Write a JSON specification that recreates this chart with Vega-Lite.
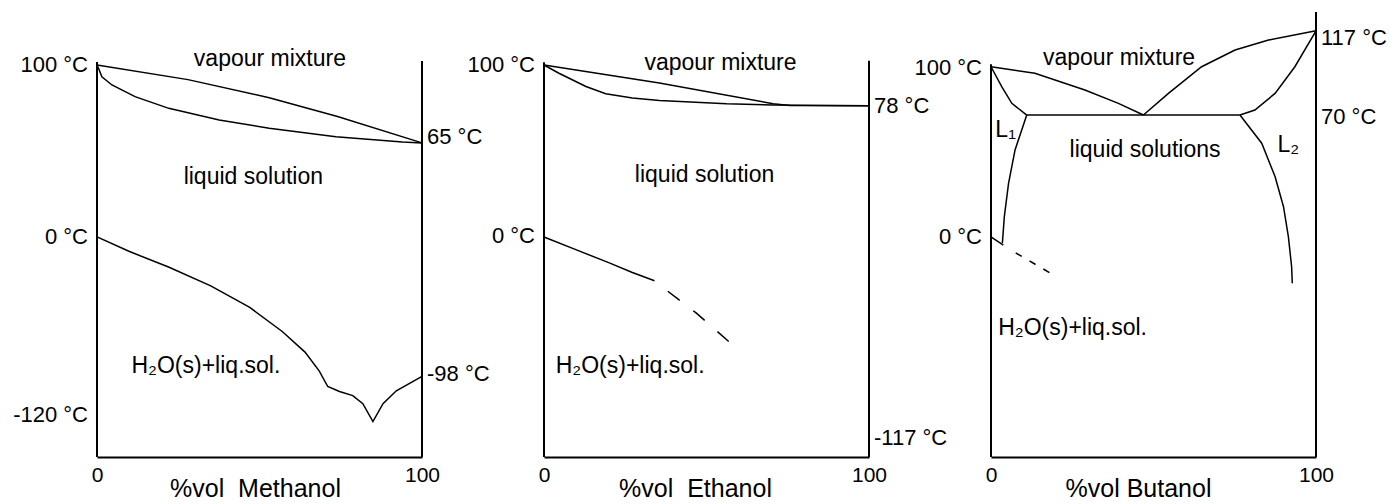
{
  "$schema": "https://vega.github.io/schema/vega-lite/v6.json",
  "padding": {"left": 13, "top": 10, "right": 0, "bottom": 0},
  "spacing": 122,
  "bounds": "flush",
  "config": {"view": {"stroke": null}, "font": "Liberation Sans"},
  "datasets": {
    "frame": [
      {"p": "M", "x": 0, "y": -128, "y2": 101.7}, {"p": "M", "x": 100, "y": -128, "y2": 102.3},
      {"p": "E", "x": 0, "y": -128, "y2": 101.6}, {"p": "E", "x": 100, "y": -128, "y2": 102.5},
      {"p": "B", "x": 0, "y": -128, "y2": 100.4}, {"p": "B", "x": 100, "y": -128, "y2": 130.8}
    ],
    "lines": [
      {"p": "M", "c": "v", "s": "solid", "o": 1, "x": 0, "y": 100},
      {"p": "M", "c": "v", "s": "solid", "o": 2, "x": 28, "y": 91.5},
      {"p": "M", "c": "v", "s": "solid", "o": 3, "x": 53, "y": 81},
      {"p": "M", "c": "v", "s": "solid", "o": 4, "x": 74, "y": 70},
      {"p": "M", "c": "v", "s": "solid", "o": 5, "x": 100, "y": 54.7},
      {"p": "M", "c": "l", "s": "solid", "o": 1, "x": 0, "y": 100},
      {"p": "M", "c": "l", "s": "solid", "o": 2, "x": 0.5, "y": 98},
      {"p": "M", "c": "l", "s": "solid", "o": 3, "x": 1.5, "y": 93.2},
      {"p": "M", "c": "l", "s": "solid", "o": 4, "x": 4.6, "y": 88.4},
      {"p": "M", "c": "l", "s": "solid", "o": 5, "x": 11.7, "y": 81.6},
      {"p": "M", "c": "l", "s": "solid", "o": 6, "x": 22.1, "y": 74.8},
      {"p": "M", "c": "l", "s": "solid", "o": 7, "x": 37.6, "y": 68},
      {"p": "M", "c": "l", "s": "solid", "o": 8, "x": 53, "y": 63.2},
      {"p": "M", "c": "l", "s": "solid", "o": 9, "x": 73.5, "y": 58.3},
      {"p": "M", "c": "l", "s": "solid", "o": 10, "x": 94, "y": 55.2},
      {"p": "M", "c": "l", "s": "solid", "o": 11, "x": 100, "y": 54.7},
      {"p": "M", "c": "f", "s": "solid", "o": 1, "x": 0, "y": 0},
      {"p": "M", "c": "f", "s": "solid", "o": 2, "x": 10, "y": -8.5},
      {"p": "M", "c": "f", "s": "solid", "o": 3, "x": 22, "y": -17.5},
      {"p": "M", "c": "f", "s": "solid", "o": 4, "x": 35, "y": -28.5},
      {"p": "M", "c": "f", "s": "solid", "o": 5, "x": 47, "y": -41},
      {"p": "M", "c": "f", "s": "solid", "o": 6, "x": 57, "y": -55},
      {"p": "M", "c": "f", "s": "solid", "o": 7, "x": 64, "y": -67},
      {"p": "M", "c": "f", "s": "solid", "o": 8, "x": 68.4, "y": -78},
      {"p": "M", "c": "f", "s": "solid", "o": 9, "x": 71, "y": -87},
      {"p": "M", "c": "f", "s": "solid", "o": 10, "x": 74.6, "y": -89.9},
      {"p": "M", "c": "f", "s": "solid", "o": 11, "x": 78.7, "y": -92.3},
      {"p": "M", "c": "f", "s": "solid", "o": 12, "x": 81.8, "y": -97},
      {"p": "M", "c": "f", "s": "solid", "o": 13, "x": 84.9, "y": -107.4},
      {"p": "M", "c": "f", "s": "solid", "o": 14, "x": 88, "y": -97},
      {"p": "M", "c": "f", "s": "solid", "o": 15, "x": 92.1, "y": -89.5},
      {"p": "M", "c": "f", "s": "solid", "o": 16, "x": 100, "y": -81.1},

      {"p": "E", "c": "v", "s": "solid", "o": 1, "x": 0, "y": 100},
      {"p": "E", "c": "v", "s": "solid", "o": 2, "x": 35.5, "y": 89.5},
      {"p": "E", "c": "v", "s": "solid", "o": 3, "x": 70.5, "y": 77.5},
      {"p": "E", "c": "v", "s": "solid", "o": 4, "x": 75.6, "y": 76.5},
      {"p": "E", "c": "v", "s": "solid", "o": 5, "x": 100, "y": 76.3},
      {"p": "E", "c": "l", "s": "solid", "o": 1, "x": 0, "y": 100},
      {"p": "E", "c": "l", "s": "solid", "o": 2, "x": 4.6, "y": 95.2},
      {"p": "E", "c": "l", "s": "solid", "o": 3, "x": 12.9, "y": 87.5},
      {"p": "E", "c": "l", "s": "solid", "o": 4, "x": 19, "y": 83.3},
      {"p": "E", "c": "l", "s": "solid", "o": 5, "x": 27.2, "y": 80.8},
      {"p": "E", "c": "l", "s": "solid", "o": 6, "x": 35.5, "y": 79.4},
      {"p": "E", "c": "l", "s": "solid", "o": 7, "x": 56.2, "y": 77.4},
      {"p": "E", "c": "l", "s": "solid", "o": 8, "x": 70.5, "y": 76.7},
      {"p": "E", "c": "l", "s": "solid", "o": 9, "x": 100, "y": 76.3},
      {"p": "E", "c": "f", "s": "solid", "o": 1, "x": 0, "y": 0},
      {"p": "E", "c": "f", "s": "solid", "o": 2, "x": 9.8, "y": -7.4},
      {"p": "E", "c": "f", "s": "solid", "o": 3, "x": 20.1, "y": -15.1},
      {"p": "E", "c": "f", "s": "solid", "o": 4, "x": 27, "y": -20.5},
      {"p": "E", "c": "f", "s": "solid", "o": 5, "x": 34, "y": -25.5},
      {"p": "E", "c": "fd", "s": "dash", "o": 1, "x": 38.1, "y": -31.6},
      {"p": "E", "c": "fd", "s": "dash", "o": 2, "x": 46.8, "y": -44.2},
      {"p": "E", "c": "fd", "s": "dash", "o": 3, "x": 57.3, "y": -61.6},

      {"p": "B", "c": "vL", "s": "solid", "o": 1, "x": 0, "y": 99},
      {"p": "B", "c": "vL", "s": "solid", "o": 2, "x": 13.5, "y": 95.2},
      {"p": "B", "c": "vL", "s": "solid", "o": 3, "x": 28.9, "y": 85.5},
      {"p": "B", "c": "vL", "s": "solid", "o": 4, "x": 39.2, "y": 77.7},
      {"p": "B", "c": "vL", "s": "solid", "o": 5, "x": 46.9, "y": 70.9},
      {"p": "B", "c": "vR", "s": "solid", "o": 1, "x": 46.9, "y": 70.9},
      {"p": "B", "c": "vR", "s": "solid", "o": 2, "x": 54.6, "y": 83.5},
      {"p": "B", "c": "vR", "s": "solid", "o": 3, "x": 64.8, "y": 99},
      {"p": "B", "c": "vR", "s": "solid", "o": 4, "x": 75.1, "y": 108.7},
      {"p": "B", "c": "vR", "s": "solid", "o": 5, "x": 85.4, "y": 114.5},
      {"p": "B", "c": "vR", "s": "solid", "o": 6, "x": 100, "y": 119.9},
      {"p": "B", "c": "iR", "s": "solid", "o": 1, "x": 100, "y": 119.9},
      {"p": "B", "c": "iR", "s": "solid", "o": 2, "x": 93.5, "y": 99},
      {"p": "B", "c": "iR", "s": "solid", "o": 3, "x": 87.4, "y": 83.5},
      {"p": "B", "c": "iR", "s": "solid", "o": 4, "x": 81.2, "y": 73.8},
      {"p": "B", "c": "iR", "s": "solid", "o": 5, "x": 76.6, "y": 70.9},
      {"p": "B", "c": "iL", "s": "solid", "o": 1, "x": 0, "y": 99},
      {"p": "B", "c": "iL", "s": "solid", "o": 2, "x": 3.3, "y": 87.4},
      {"p": "B", "c": "iL", "s": "solid", "o": 3, "x": 6.4, "y": 77.7},
      {"p": "B", "c": "iL", "s": "solid", "o": 4, "x": 11, "y": 70.9},
      {"p": "B", "c": "h", "s": "solid", "o": 1, "x": 11, "y": 70.9},
      {"p": "B", "c": "h", "s": "solid", "o": 2, "x": 76.6, "y": 70.9},
      {"p": "B", "c": "L1", "s": "solid", "o": 1, "x": 11, "y": 70.9},
      {"p": "B", "c": "L1", "s": "solid", "o": 2, "x": 7.4, "y": 50.6},
      {"p": "B", "c": "L1", "s": "solid", "o": 3, "x": 5.4, "y": 31.2},
      {"p": "B", "c": "L1", "s": "solid", "o": 4, "x": 4.1, "y": 11.8},
      {"p": "B", "c": "L1", "s": "solid", "o": 5, "x": 3.5, "y": -3.7},
      {"p": "B", "c": "L2", "s": "solid", "o": 1, "x": 76.6, "y": 70.9},
      {"p": "B", "c": "L2", "s": "solid", "o": 2, "x": 83.3, "y": 54.5},
      {"p": "B", "c": "L2", "s": "solid", "o": 3, "x": 87.4, "y": 35.1},
      {"p": "B", "c": "L2", "s": "solid", "o": 4, "x": 90, "y": 17.6},
      {"p": "B", "c": "L2", "s": "solid", "o": 5, "x": 91.5, "y": 0.2},
      {"p": "B", "c": "L2", "s": "solid", "o": 6, "x": 92.5, "y": -17.3},
      {"p": "B", "c": "L2", "s": "solid", "o": 7, "x": 92.7, "y": -26.9},
      {"p": "B", "c": "f", "s": "solid", "o": 1, "x": 0, "y": 0},
      {"p": "B", "c": "f", "s": "solid", "o": 2, "x": 3.8, "y": -4.7},
      {"p": "B", "c": "fd", "s": "dash", "o": 1, "x": 7.6, "y": -9.3},
      {"p": "B", "c": "fd", "s": "dash", "o": 2, "x": 18.7, "y": -21.5}
    ],
    "labels": [
      {"p": "M", "k": "L", "t": "100 °C", "x": 0, "y": 100},
      {"p": "M", "k": "L", "t": "0 °C", "x": 0, "y": 0},
      {"p": "M", "k": "L", "t": "-120 °C", "x": 0, "y": -103.5},
      {"p": "M", "k": "R", "t": "65 °C", "x": 100, "y": 58.3},
      {"p": "M", "k": "R", "t": "-98 °C", "x": 100, "y": -79.7},
      {"p": "M", "k": "C", "t": "vapour mixture", "x": 53.2, "y": 103.5},
      {"p": "M", "k": "C", "t": "liquid solution", "x": 48.1, "y": 34.6},
      {"p": "M", "k": "C", "t": "H₂O(s)+liq.sol.", "x": 33.5, "y": -75},
      {"p": "E", "k": "L", "t": "100 °C", "x": 0, "y": 100},
      {"p": "E", "k": "L", "t": "0 °C", "x": 0, "y": 0.5},
      {"p": "E", "k": "R", "t": "78 °C", "x": 100, "y": 76.3},
      {"p": "E", "k": "R", "t": "-117 °C", "x": 100, "y": -116.7},
      {"p": "E", "k": "C", "t": "vapour mixture", "x": 54.3, "y": 101},
      {"p": "E", "k": "C", "t": "liquid solution", "x": 49.4, "y": 36},
      {"p": "E", "k": "C", "t": "H₂O(s)+liq.sol.", "x": 26.5, "y": -74.8},
      {"p": "B", "k": "L", "t": "100 °C", "x": 0, "y": 98},
      {"p": "B", "k": "L", "t": "0 °C", "x": 0, "y": 0},
      {"p": "B", "k": "R", "t": "117 °C", "x": 100, "y": 115.5},
      {"p": "B", "k": "R", "t": "70 °C", "x": 100, "y": 70},
      {"p": "B", "k": "C", "t": "vapour mixture", "x": 39.4, "y": 103.9},
      {"p": "B", "k": "C", "t": "liquid solutions", "x": 47.4, "y": 50.6},
      {"p": "B", "k": "C", "t": "L₁", "x": 4.5, "y": 62.2},
      {"p": "B", "k": "C", "t": "L₂", "x": 91.5, "y": 53.5},
      {"p": "B", "k": "C", "t": "H₂O(s)+liq.sol.", "x": 25.1, "y": -53.1}
    ]
  },
  "hconcat": [
    {
      "width": 325, "height": 447,
      "encoding": {
        "x": {"field": "x", "type": "quantitative", "scale": {"domain": [0, 100], "nice": false},
          "axis": {"values": [0, 100], "title": "%vol\u00a0 Methanol", "grid": false, "ticks": false, "tickSize": 0,
            "labelFontSize": 21, "labelColor": "black", "labelFlush": false, "labelPadding": 24, "labelBaseline": "alphabetic",
            "domainColor": "black", "domainWidth": 2,
            "titleFontSize": 25, "titleFontWeight": "normal", "titleColor": "black", "titleX": 158, "titleY": 39.5, "titleBaseline": "alphabetic"}},
        "y": {"field": "y", "type": "quantitative", "scale": {"domain": [-128, 132], "nice": false}, "axis": null}
      },
      "layer": [
        {"data": {"name": "frame"}, "transform": [{"filter": "datum.p === 'M'"}],
          "mark": {"type": "rule", "color": "black", "strokeWidth": 2}, "encoding": {"y2": {"field": "y2"}}},
        {"data": {"name": "lines"}, "transform": [{"filter": "datum.p === 'M' && datum.s === 'solid'"}],
          "mark": {"type": "line", "color": "black", "strokeWidth": 1.5},
          "encoding": {"detail": {"field": "c"}, "order": {"field": "o", "type": "quantitative"}}},
        {"data": {"name": "labels"}, "transform": [{"filter": "datum.p === 'M' && datum.k === 'L'"}],
          "mark": {"type": "text", "color": "black", "fontSize": 22, "align": "right", "baseline": "middle", "dx": -9},
          "encoding": {"text": {"field": "t"}}},
        {"data": {"name": "labels"}, "transform": [{"filter": "datum.p === 'M' && datum.k === 'R'"}],
          "mark": {"type": "text", "color": "black", "fontSize": 22, "align": "left", "baseline": "middle", "dx": 5},
          "encoding": {"text": {"field": "t"}}},
        {"data": {"name": "labels"}, "transform": [{"filter": "datum.p === 'M' && datum.k === 'C'"}],
          "mark": {"type": "text", "color": "black", "fontSize": 23, "align": "center", "baseline": "middle"},
          "encoding": {"text": {"field": "t"}}}
      ]
    },
    {
      "width": 325, "height": 447,
      "encoding": {
        "x": {"field": "x", "type": "quantitative", "scale": {"domain": [0, 100], "nice": false},
          "axis": {"values": [0, 100], "title": "%vol\u00a0 Ethanol", "grid": false, "ticks": false, "tickSize": 0,
            "labelFontSize": 21, "labelColor": "black", "labelFlush": false, "labelPadding": 24, "labelBaseline": "alphabetic",
            "domainColor": "black", "domainWidth": 2,
            "titleFontSize": 25, "titleFontWeight": "normal", "titleColor": "black", "titleX": 151, "titleY": 39.5, "titleBaseline": "alphabetic"}},
        "y": {"field": "y", "type": "quantitative", "scale": {"domain": [-128, 132], "nice": false}, "axis": null}
      },
      "layer": [
        {"data": {"name": "frame"}, "transform": [{"filter": "datum.p === 'E'"}],
          "mark": {"type": "rule", "color": "black", "strokeWidth": 2}, "encoding": {"y2": {"field": "y2"}}},
        {"data": {"name": "lines"}, "transform": [{"filter": "datum.p === 'E' && datum.s === 'solid'"}],
          "mark": {"type": "line", "color": "black", "strokeWidth": 1.5},
          "encoding": {"detail": {"field": "c"}, "order": {"field": "o", "type": "quantitative"}}},
        {"data": {"name": "lines"}, "transform": [{"filter": "datum.p === 'E' && datum.s === 'dash'"}],
          "mark": {"type": "line", "color": "black", "strokeWidth": 1.5, "strokeDash": [15, 17]},
          "encoding": {"detail": {"field": "c"}, "order": {"field": "o", "type": "quantitative"}}},
        {"data": {"name": "labels"}, "transform": [{"filter": "datum.p === 'E' && datum.k === 'L'"}],
          "mark": {"type": "text", "color": "black", "fontSize": 22, "align": "right", "baseline": "middle", "dx": -9},
          "encoding": {"text": {"field": "t"}}},
        {"data": {"name": "labels"}, "transform": [{"filter": "datum.p === 'E' && datum.k === 'R'"}],
          "mark": {"type": "text", "color": "black", "fontSize": 22, "align": "left", "baseline": "middle", "dx": 5},
          "encoding": {"text": {"field": "t"}}},
        {"data": {"name": "labels"}, "transform": [{"filter": "datum.p === 'E' && datum.k === 'C'"}],
          "mark": {"type": "text", "color": "black", "fontSize": 23, "align": "center", "baseline": "middle"},
          "encoding": {"text": {"field": "t"}}}
      ]
    },
    {
      "width": 325, "height": 447,
      "encoding": {
        "x": {"field": "x", "type": "quantitative", "scale": {"domain": [0, 100], "nice": false},
          "axis": {"values": [0, 100], "title": "%vol Butanol", "grid": false, "ticks": false, "tickSize": 0,
            "labelFontSize": 21, "labelColor": "black", "labelFlush": false, "labelPadding": 24, "labelBaseline": "alphabetic",
            "domainColor": "black", "domainWidth": 2,
            "titleFontSize": 25, "titleFontWeight": "normal", "titleColor": "black", "titleX": 147, "titleY": 39.5, "titleBaseline": "alphabetic"}},
        "y": {"field": "y", "type": "quantitative", "scale": {"domain": [-128, 132], "nice": false}, "axis": null}
      },
      "layer": [
        {"data": {"name": "frame"}, "transform": [{"filter": "datum.p === 'B'"}],
          "mark": {"type": "rule", "color": "black", "strokeWidth": 2}, "encoding": {"y2": {"field": "y2"}}},
        {"data": {"name": "lines"}, "transform": [{"filter": "datum.p === 'B' && datum.s === 'solid'"}],
          "mark": {"type": "line", "color": "black", "strokeWidth": 1.5},
          "encoding": {"detail": {"field": "c"}, "order": {"field": "o", "type": "quantitative"}}},
        {"data": {"name": "lines"}, "transform": [{"filter": "datum.p === 'B' && datum.s === 'dash'"}],
          "mark": {"type": "line", "color": "black", "strokeWidth": 1.5, "strokeDash": [7, 9]},
          "encoding": {"detail": {"field": "c"}, "order": {"field": "o", "type": "quantitative"}}},
        {"data": {"name": "labels"}, "transform": [{"filter": "datum.p === 'B' && datum.k === 'L'"}],
          "mark": {"type": "text", "color": "black", "fontSize": 22, "align": "right", "baseline": "middle", "dx": -9},
          "encoding": {"text": {"field": "t"}}},
        {"data": {"name": "labels"}, "transform": [{"filter": "datum.p === 'B' && datum.k === 'R'"}],
          "mark": {"type": "text", "color": "black", "fontSize": 22, "align": "left", "baseline": "middle", "dx": 5},
          "encoding": {"text": {"field": "t"}}},
        {"data": {"name": "labels"}, "transform": [{"filter": "datum.p === 'B' && datum.k === 'C'"}],
          "mark": {"type": "text", "color": "black", "fontSize": 23, "align": "center", "baseline": "middle"},
          "encoding": {"text": {"field": "t"}}}
      ]
    }
  ]
}
